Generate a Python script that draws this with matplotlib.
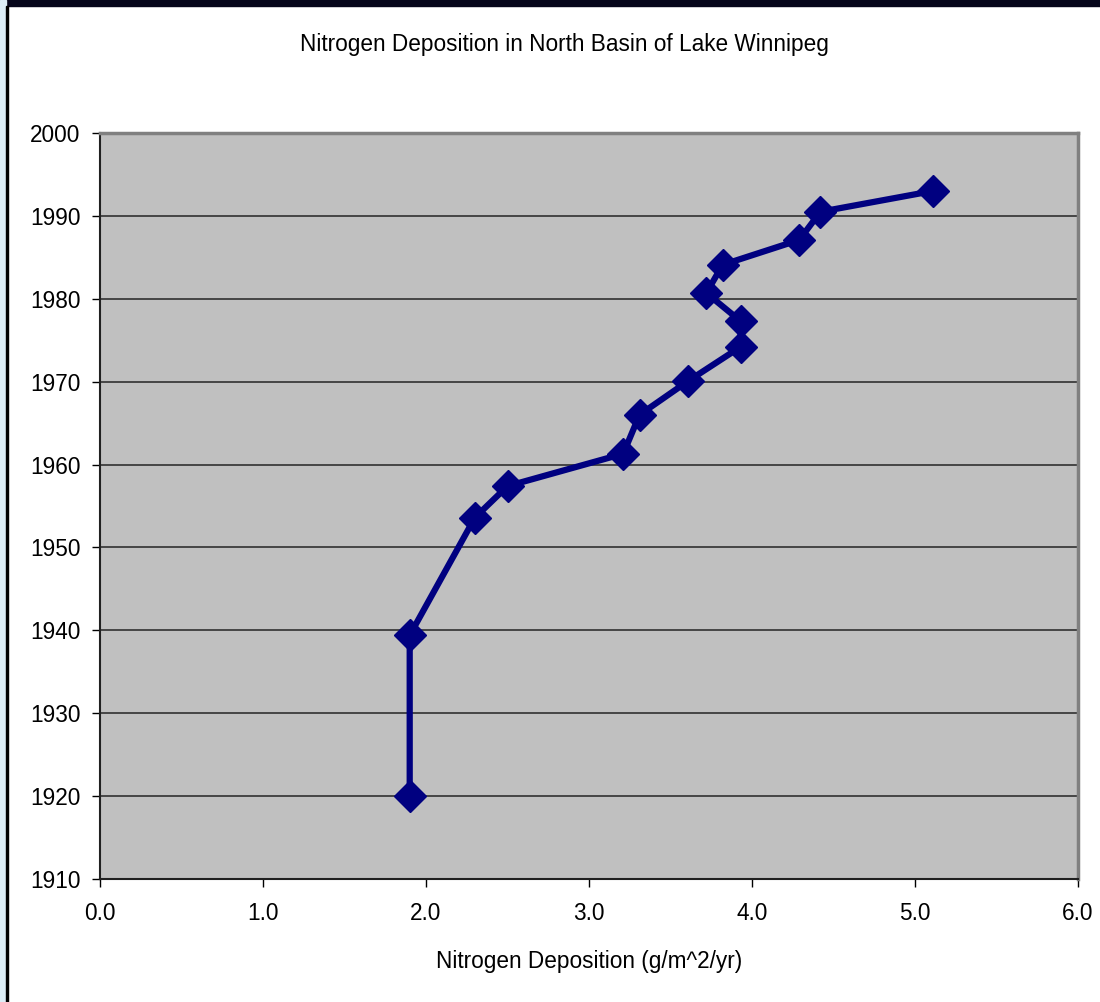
import matplotlib.pyplot as plt
import matplotlib.patches as mpatches

plt.rcParams['font.family'] = ['Liberation Sans', 'DejaVu Sans']

deposition = [1.9, 1.9, 2.3, 2.5, 3.21, 3.31, 3.61, 3.93, 3.93, 3.72, 3.82, 4.29, 4.42, 5.11]
years = [1920.0, 1939.4, 1953.6, 1957.4, 1961.3, 1966.0, 1970.1, 1974.2, 1977.3,
         1980.7, 1984.1, 1987.1, 1990.5, 1993.0]

x_ticks = [0.0, 1.0, 2.0, 3.0, 4.0, 5.0, 6.0]
y_ticks = [1910, 1920, 1930, 1940, 1950, 1960, 1970, 1980, 1990, 2000]

fig = plt.figure(figsize=(11, 10.02), dpi=100)
ax = fig.add_axes([100 / 1100, 1 - 879 / 1002, 978 / 1100, 746 / 1002])
ax.set_facecolor('#c0c0c0')

ax.plot(deposition, years, '-D', color='#000080', lw=4.5, ms=16, mec='#000080',
        clip_on=False, zorder=3)

ax.set_xlim(0, 6)
ax.set_ylim(1910, 2000)
ax.set_xticks(x_ticks)
ax.set_xticklabels([f'{v:.1f}' for v in x_ticks])
ax.set_yticks(y_ticks)
ax.tick_params(labelsize=16.3, length=6, width=1, direction='out', color='black')
ax.tick_params(axis='x', pad=10.5)
ax.tick_params(axis='y', pad=8)
ax.grid(axis='y', color='#303030', lw=1.2)
ax.set_axisbelow(True)

for side in ['top', 'right']:
    ax.spines[side].set_color('#808080')
    ax.spines[side].set_linewidth(2.5)
for side in ['left', 'bottom']:
    ax.spines[side].set_color('#202020')
    ax.spines[side].set_linewidth(1.5)

ax.set_xlabel('Nitrogen Deposition (g/m^2/yr)', fontsize=16.3, labelpad=18)
fig.text(564 / 1100, 1 - 45 / 1002, 'Nitrogen Deposition in North Basin of Lake Winnipeg',
         fontsize=16.3, ha='center', va='center')

# window frame remnants
fig.patches.append(mpatches.Rectangle((0, 1 - 6 / 1002), 1, 6 / 1002,
                                      transform=fig.transFigure, color='#05051a'))
fig.patches.append(mpatches.Rectangle((0, 0), 6 / 1100, 1,
                                      transform=fig.transFigure, color='#dcedf6'))
fig.patches.append(mpatches.Rectangle((6 / 1100, 0), 2 / 1100, 1 - 6 / 1002,
                                      transform=fig.transFigure, color='black'))

fig.savefig('out.png', dpi=100)
